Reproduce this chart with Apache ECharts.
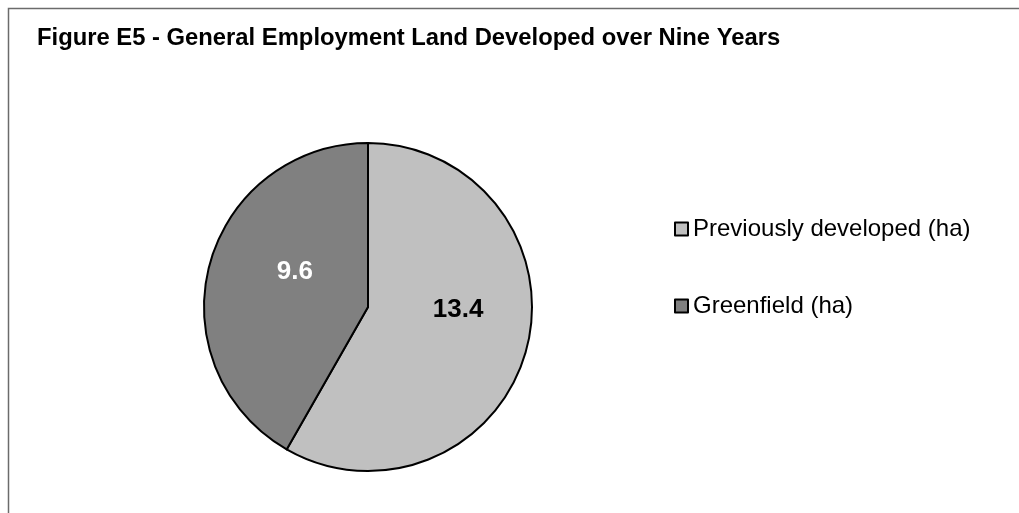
<!DOCTYPE html>
<html>
<head>
<meta charset="utf-8">
<script src="https://cdn.jsdelivr.net/npm/echarts@6/dist/echarts.min.js"></script>
<style>
html,body{margin:0;padding:0;background:#fff;}
#c{width:1019px;height:513px;}
</style>
</head>
<body>
<div id="c"></div>
<script>
const titleText = 'Figure E5 - General Employment Land Developed over Nine Years';
const categories = ['Previously developed (ha)', 'Greenfield (ha)'];
const values = [13.4, 9.6];
const colors = ['#C0C0C0', '#808080'];
const labelColors = ['#000000', '#FFFFFF'];
const labelOffsets = [[8, -19], [9, -13]];

const chart = echarts.init(document.getElementById('c'), null, {renderer: 'canvas'});
const font = 'Liberation Sans, Arial, sans-serif';
chart.setOption({
  backgroundColor: '#ffffff',
  animation: false,
  title: {
    text: titleText,
    left: 37,
    top: 26,
    padding: 0,
    textStyle: {fontFamily: font, fontSize: 23.8, fontWeight: 'bold', color: '#000'}
  },
  graphic: [{
    type: 'rect',
    shape: {x: 8.5, y: 8.5, width: 1100, height: 600},
    style: {fill: 'none', stroke: '#6b6b6b', lineWidth: 1.5},
    silent: true
  }],
  legend: {
    orient: 'vertical',
    left: 674,
    top: 217,
    padding: 0,
    itemWidth: 13,
    itemHeight: 13,
    itemGap: 53,
    icon: 'rect',
    itemStyle: {borderColor: '#000', borderWidth: 2},
    textStyle: {fontFamily: font, fontSize: 24, color: '#000', lineHeight: 24},
    data: categories
  },
  series: [{
    type: 'pie',
    center: [368, 307],
    radius: [0, 164],
    startAngle: 90,
    clockwise: true,
    silent: true,
    itemStyle: {borderColor: '#000', borderWidth: 2},
    label: {
      show: true,
      position: 'inside',
      fontFamily: font,
      fontSize: 26,
      fontWeight: 'bold',
      formatter: p => p.value.toFixed(1)
    },
    labelLine: {show: false},
    data: categories.map((n, i) => ({
      name: n,
      value: values[i],
      itemStyle: {color: colors[i]},
      label: {color: labelColors[i], offset: labelOffsets[i]}
    }))
  }]
});
</script>
</body>
</html>
